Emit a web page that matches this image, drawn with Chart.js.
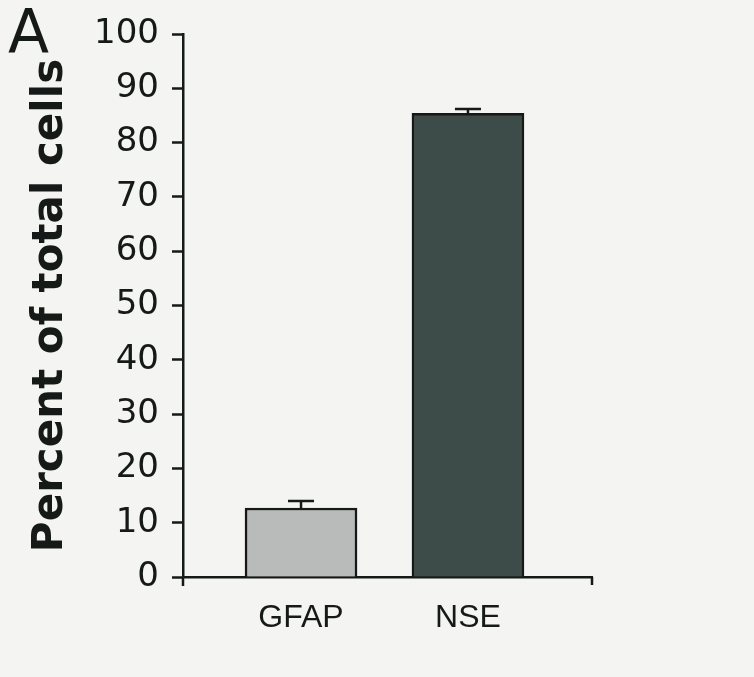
<!DOCTYPE html>
<html>
<head>
<meta charset="utf-8">
<script src="https://cdn.jsdelivr.net/npm/chart.js@4"></script>
<style>
  html, body { margin: 0; padding: 0; background: #f4f4f2; }
  canvas { display: block; }
</style>
</head>
<body>
<canvas id="chart" width="754" height="677"></canvas>
<script>
// data
const categories = ["GFAP", "NSE"];
const percentValues = [12.7, 85.4];
const errorValues = [1.3, 0.8];
const yTicks = [0, 10, 20, 30, 40, 50, 60, 70, 80, 90, 100];

const barColors = ["#b9bbba", "#3d4c49"];
const ink = "#151a18";

// background + panel letter
const backgroundPlugin = {
  id: "bg",
  beforeDraw(chart) {
    const c = chart.ctx;
    c.save();
    c.fillStyle = "#f4f4f2";
    c.fillRect(0, 0, chart.width, chart.height);
    c.restore();
  },
  afterDraw(chart) {
    const c = chart.ctx;
    const area = chart.chartArea;
    c.save();
    c.fillStyle = ink;
    c.font = "60px 'DejaVu Sans'";
    c.textBaseline = "alphabetic";
    c.fillText("A", 8, 52);
    // axis extras: y axis runs a bit below 0, tick down at the end of the x axis
    c.strokeStyle = ink;
    c.lineWidth = 2.5;
    c.beginPath();
    c.moveTo(area.left, area.bottom);
    c.lineTo(area.left, area.bottom + 9);
    c.moveTo(area.right, area.bottom);
    c.lineTo(area.right, area.bottom + 8);
    c.stroke();
    c.restore();
  }
};

// error bars (upper only)
const errorBarPlugin = {
  id: "errorBars",
  afterDatasetsDraw(chart) {
    const c = chart.ctx;
    const x = chart.scales.x, y = chart.scales.y;
    c.save();
    c.strokeStyle = ink;
    c.lineWidth = 2.5;
    percentValues.forEach((v, i) => {
      const px = x.getPixelForValue(i);
      const top = y.getPixelForValue(v + errorValues[i]);
      const base = y.getPixelForValue(v);
      c.beginPath();
      c.moveTo(px, base);
      c.lineTo(px, top);
      c.moveTo(px - 13, top);
      c.lineTo(px + 13, top);
      c.stroke();
    });
    c.restore();
  }
};

const ctx = document.getElementById("chart").getContext("2d");

new Chart(ctx, {
  type: "bar",
  data: {
    datasets: [{
      data: percentValues.map((v, i) => ({ x: i, y: v })),
      backgroundColor: barColors,
      borderColor: ink,
      borderWidth: 2.5,
      barThickness: 112
    }]
  },
  options: {
    responsive: false,
    animation: false,
    events: [],
    layout: { padding: { left: 0, top: 34, right: 162, bottom: 0 } },
    plugins: { legend: { display: false }, tooltip: { enabled: false } },
    scales: {
      x: {
        type: "linear",
        offset: false,
        min: -0.707,
        max: 1.743,
        grid: { display: false, drawTicks: false, offset: false },
        border: { display: true, color: ink, width: 2.5 },
        afterBuildTicks: (scale) => { scale.ticks = categories.map((c, i) => ({ value: i })); },
        afterFit: (scale) => { scale.height = 100; },
        ticks: {
          autoSkip: false,
          maxRotation: 0,
          padding: 22,
          color: ink,
          font: { family: "'Liberation Sans', Arial", size: 32 },
          callback: (v) => categories[v]
        }
      },
      y: {
        min: 0,
        max: 100,
        afterBuildTicks: (scale) => { scale.ticks = yTicks.map(v => ({ value: v })); },
        afterFit: (scale) => { scale.width = 183; },
        grid: { drawOnChartArea: false, drawTicks: true, tickLength: 11, tickColor: ink, tickWidth: 2.5 },
        border: { display: true, color: ink, width: 2.5 },
        ticks: {
          padding: 13,
          color: ink,
          font: { family: "'DejaVu Sans'", size: 34 }
        },
        title: {
          display: true,
          text: "Percent of total cells",
          color: ink,
          padding: { top: 26, bottom: 0 },
          font: { family: "'DejaVu Sans'", size: 42, weight: "bold" }
        }
      }
    }
  },
  plugins: [backgroundPlugin, errorBarPlugin]
});
</script>
</body>
</html>
